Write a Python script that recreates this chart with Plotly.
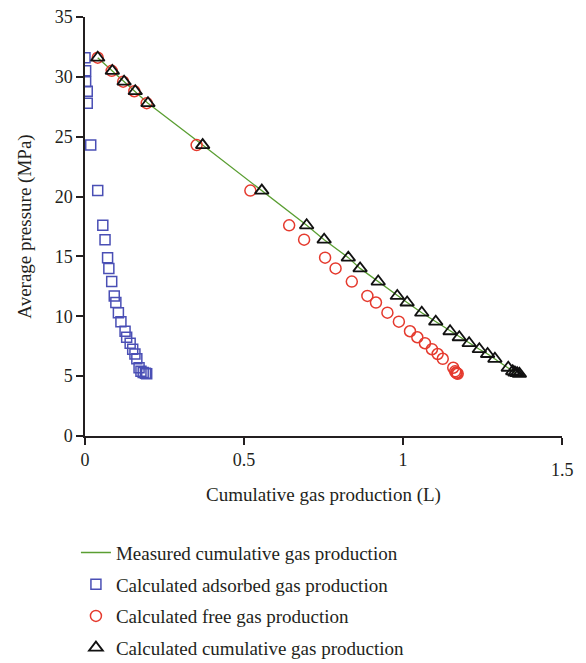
import plotly.graph_objects as go

# Average pressure levels (MPa) at each depletion step
pressure = [31.6, 30.5, 29.6, 28.8, 27.8, 24.3, 20.5, 17.6, 16.4, 14.9, 14.0, 12.9,
            11.7, 11.15, 10.3, 9.55, 8.75, 8.25, 7.75, 7.25, 6.85, 6.45, 5.7, 5.4,
            5.3, 5.25, 5.2]

# Calculated adsorbed gas production (L)
adsorbed = [0.000, 0.002, 0.002, 0.007, 0.007, 0.018, 0.040, 0.056, 0.063, 0.071,
            0.075, 0.084, 0.092, 0.097, 0.105, 0.113, 0.126, 0.131, 0.142, 0.150,
            0.157, 0.163, 0.170, 0.176, 0.183, 0.190, 0.194]

# Calculated free gas production (L)
free = [0.040, 0.084, 0.120, 0.155, 0.194, 0.351, 0.520, 0.642, 0.689, 0.755,
        0.788, 0.839, 0.888, 0.915, 0.951, 0.987, 1.022, 1.045, 1.069, 1.091,
        1.109, 1.125, 1.158, 1.164, 1.167, 1.169, 1.172]

# Calculated cumulative gas production (L)
calc_total = [0.040, 0.086, 0.123, 0.158, 0.198, 0.370, 0.556, 0.697, 0.752, 0.828,
              0.865, 0.922, 0.982, 1.013, 1.059, 1.103, 1.148, 1.177, 1.208, 1.240,
              1.266, 1.289, 1.331, 1.345, 1.352, 1.359, 1.366]

# Measured cumulative gas production (L) vs pressure (MPa)
measured_x = [0.040, 0.086, 0.123, 0.158, 0.198, 0.370, 0.556, 0.697, 0.752, 0.828,
              0.865, 0.922, 0.982, 1.013, 1.059, 1.103, 1.148, 1.177, 1.208, 1.240,
              1.266, 1.289, 1.331, 1.352]
measured_p = [31.6, 30.5, 29.6, 28.8, 27.8, 24.3, 20.5, 17.6, 16.4, 14.9, 14.0, 12.9,
              11.7, 11.15, 10.3, 9.55, 8.75, 8.25, 7.75, 7.25, 6.85, 6.45, 5.7, 5.3]

x_ticks = [0, 0.5, 1, 1.5]
x_tick_text = ["0", "0.5", "1", ""]
y_ticks = [0, 5, 10, 15, 20, 25, 30, 35]

FONT = "Liberation Serif"

fig = go.Figure()
fig.add_trace(go.Scatter(
    x=measured_x, y=measured_p, mode="lines",
    line=dict(color="#5a9e32", width=1.3),
    name="Measured cumulative gas production", legendgroup="a"))
fig.add_trace(go.Scatter(
    x=adsorbed, y=pressure, mode="markers",
    marker=dict(symbol="square-open", size=10, color="#4a4fb5", line=dict(width=1.5)),
    name="Calculated adsorbed gas production", legendgroup="b"))
fig.add_trace(go.Scatter(
    x=free, y=pressure, mode="markers",
    marker=dict(symbol="circle-open", size=11, color="#e53a2e", line=dict(width=1.5)),
    name="Calculated free gas production", legendgroup="c"))
fig.add_trace(go.Scatter(
    x=calc_total, y=pressure, mode="markers",
    marker=dict(symbol="triangle-up-open", size=12, color="#111111", line=dict(width=1.8)),
    name="Calculated cumulative gas production", legendgroup="d"))

fig.update_layout(
    width=586, height=663,
    margin=dict(l=85, r=24, t=17, b=227, autoexpand=False),
    paper_bgcolor="white", plot_bgcolor="white",
    font=dict(family=FONT, size=18, color="#231f20"),
    showlegend=True,
    legend=dict(
        x=-0.019, xanchor="left", y=-0.233, yanchor="top",
        font=dict(family=FONT, size=19, color="#231f20"),
        traceorder="grouped", tracegroupgap=4,
        bgcolor="rgba(0,0,0,0)", borderwidth=0,
    ),
    xaxis=dict(
        range=[0, 1.5], tickvals=x_ticks, ticktext=x_tick_text,
        showgrid=False, zeroline=False,
        showline=True, linecolor="#231f20", linewidth=1.5,
        ticks="outside", ticklen=7, tickwidth=1.5, tickcolor="#231f20",
        tickfont=dict(family=FONT, size=18),
        title=dict(text="Cumulative gas production (L)", font=dict(family=FONT, size=19), standoff=18),
    ),
    yaxis=dict(
        range=[0, 35], tickvals=y_ticks,
        showgrid=False, zeroline=False,
        showline=True, linecolor="#231f20", linewidth=1.5,
        ticks="outside", ticklen=7, tickwidth=1.5, tickcolor="#231f20",
        tickfont=dict(family=FONT, size=18),
        title=dict(text="Average pressure (MPa)", font=dict(family=FONT, size=19), standoff=18),
    ),
)

# Last x tick label sits slightly lower than the others
fig.add_annotation(
    x=1.5, xref="x", y=-0.082, yref="paper", text="1.5", showarrow=False,
    xanchor="center", yanchor="middle", font=dict(family=FONT, size=18, color="#231f20"))

fig.write_html("out.html")
